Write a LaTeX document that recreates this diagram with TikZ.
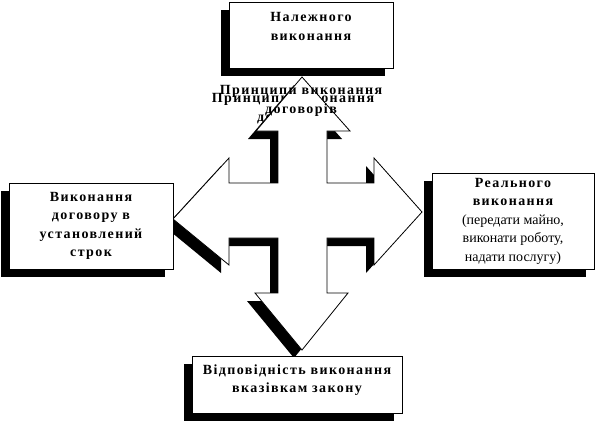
\documentclass[tikz,border=0pt]{standalone}
\usepackage{fontspec}
\setmainfont{Liberation Serif}[BoldFeatures={LetterSpace=10}]
\usepackage{tikz}
\usepackage{xcolor}
\usetikzlibrary{positioning,shadows}
\definecolor{inkc}{HTML}{000000}
\definecolor{paperc}{HTML}{FFFFFF}
\newcommand{\boxfont}{\fontsize{14pt}{18.5pt}\selectfont\bfseries}
\tikzset{
  flat/.style={drop shadow={shadow xshift=-8pt, shadow yshift=-8pt, fill=inkc, opacity=1}},
  plate/.style={flat, draw=inkc, line width=1pt, fill=paperc, inner sep=0pt, align=center, font=\boxfont},
  caption/.style={inner sep=0pt, align=center, font=\boxfont, text=inkc},
  cross/.style={flat, draw=inkc, line width=0.8pt, fill=paperc, line join=miter},
}

\begin{document}
\begin{tikzpicture}[x=1pt, y=-1pt]
\useasboundingbox (0,0) rectangle (596,432);
% heading shadow copy, hidden under the arrow
\node[caption] (aimS) at (293,109) {Принципи виконання\\договорів};
\path[cross] (302,77) -- (350,131) -- (327,131) -- (327,183) -- (374,183) -- (374,158) -- (422,212) -- (374,265) -- (374,238) -- (327,238) -- (327,293) -- (348,293) -- (302,350) -- (255,293) -- (278,293) -- (278,238) -- (229,238) -- (229,265) -- (173,219) -- (229,158) -- (229,183) -- (278,183) -- (278,131) -- (256,131) -- cycle;
\node[caption] (aim) at (301,101) {Принципи виконання\\договорів};
% boxes
\node[plate, minimum width=164pt, minimum height=66pt] (due) at (311,35) {};
\node[caption, below=11pt of due.north] (dueT) {Належного\\виконання};
\node[plate, minimum width=164pt, minimum height=86pt] (term) at (91,226) {Виконання\\договору в\\установлений\\строк};
\node[plate, minimum width=162pt, minimum height=96pt] (real) at (513,221) {Реального\\виконання\\\mdseries(передати майно,\\\mdseries виконати роботу,\\\mdseries надати послугу)};
\node[plate, minimum width=210pt, minimum height=57pt] (law) at (297,384.5) {};
\node[caption, below=9pt of law.north] (lawT) {Відповідність виконання\\вказівкам закону};
\end{tikzpicture}
\end{document}
